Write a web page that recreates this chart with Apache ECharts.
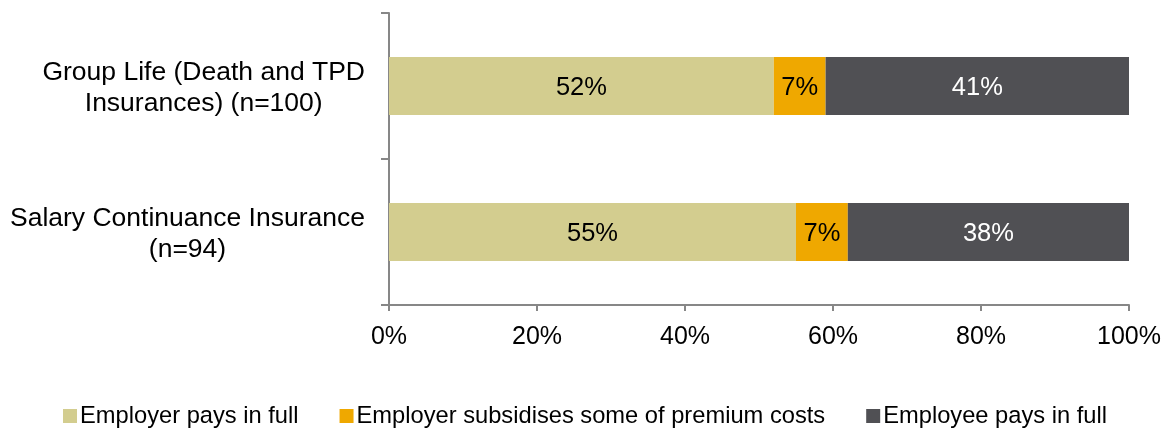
<!DOCTYPE html>
<html>
<head>
<meta charset="utf-8">
<script src="https://cdn.jsdelivr.net/npm/echarts@6/dist/echarts.min.js"></script>
<style>
  html, body { margin: 0; padding: 0; background: #ffffff; }
  #chart { width: 1171px; height: 429px; }
</style>
</head>
<body>
<div id="chart"></div>
<script>
// Insurance premium funding, share of respondents by plan type
const categories = [
  'Group Life (Death and TPD\nInsurances) (n=100)',
  'Salary Continuance Insurance\n(n=94)'
];
const seriesNames = [
  'Employer pays in full',
  'Employer subsidises some of premium costs',
  'Employee pays in full'
];
const employerFull = [52, 55];
const employerSubsidy = [7, 7];
const employeeFull = [41, 38];
const xTicks = [0, 20, 40, 60, 80, 100];

const colors = ['#D3CD8F', '#EFA800', '#505054'];
const labelColors = ['#000000', '#000000', '#ffffff'];
const font = "'Liberation Sans', Arial, sans-serif";
const axisGray = '#878787';

const values = [employerFull, employerSubsidy, employeeFull];

const chart = echarts.init(document.getElementById('chart'), null, { renderer: 'canvas' });

chart.setOption({
  animation: false,
  textStyle: { fontFamily: font },
  grid: { left: 389, right: 42, top: 13, bottom: 124, containLabel: false },
  legend: {
    left: 58,
    top: 399,
    itemWidth: 14,
    itemHeight: 14,
    itemGap: 41,
    icon: 'rect',
    textStyle: { fontSize: 23.7, color: '#000', fontFamily: font, padding: [0, 0, 0, -2] },
    data: seriesNames
  },
  xAxis: {
    type: 'value',
    min: xTicks[0],
    max: xTicks[xTicks.length - 1],
    interval: 20,
    axisLine: { show: true, lineStyle: { color: axisGray, width: 2 } },
    axisTick: { show: true, length: 6, lineStyle: { color: axisGray, width: 2 } },
    splitLine: { show: false },
    axisLabel: {
      formatter: '{value}%',
      fontSize: 25,
      color: '#000',
      margin: 20,
      fontFamily: font
    }
  },
  yAxis: {
    type: 'category',
    inverse: true,
    data: categories,
    axisLine: { show: true, lineStyle: { color: axisGray, width: 2 } },
    axisTick: { show: true, length: 8, lineStyle: { color: axisGray, width: 2 } },
    axisLabel: {
      margin: 24,
      align: 'right',
      padding: [5, 0, 0, 0],
      formatter: function (v) {
        return v.split('\n').map(function (s) { return '{c|' + s + '}'; }).join('\n');
      },
      rich: {
        c: { fontSize: 26.5, lineHeight: 31, color: '#000', align: 'center', fontFamily: font }
      }
    }
  },
  series: seriesNames.map(function (name, i) {
    return {
      name: name,
      type: 'bar',
      stack: 'total',
      barWidth: 58,
      data: values[i],
      itemStyle: { color: colors[i] },
      label: {
        show: true,
        position: 'inside',
        offset: [0, 2],
        formatter: '{c}%',
        fontSize: 25.5,
        color: labelColors[i],
        fontFamily: font
      }
    };
  })
});
</script>
</body>
</html>
